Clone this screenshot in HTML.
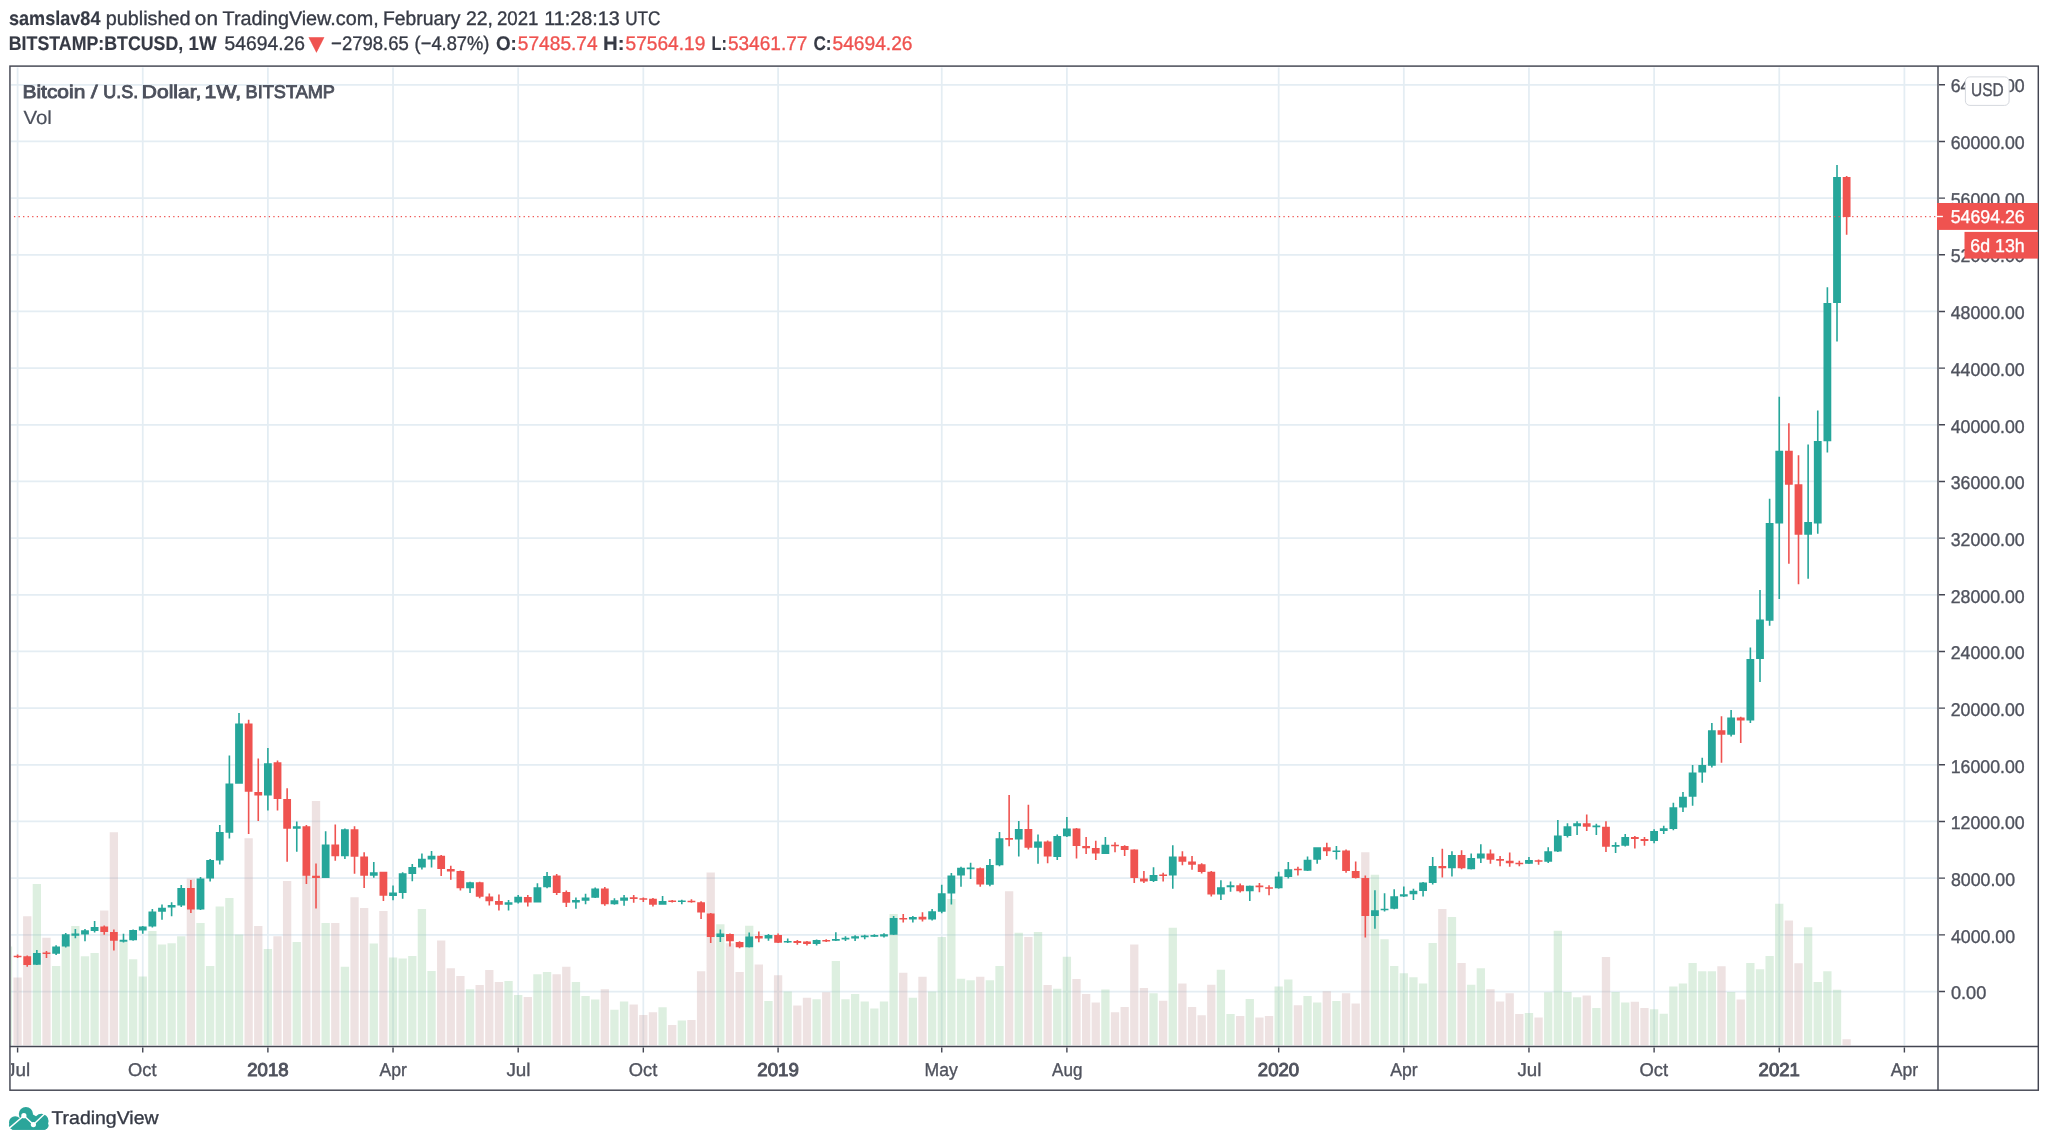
<!DOCTYPE html>
<html lang="en"><head><meta charset="utf-8"><title>BTCUSD 1W - TradingView</title>
<style>html,body{margin:0;padding:0;background:#fff}body{width:2048px;height:1146px;overflow:hidden}svg{display:block;will-change:transform}</style>
</head><body>
<svg width="2048" height="1146" viewBox="0 0 2048 1146" shape-rendering="auto" text-rendering="geometricPrecision">
<rect width="2048" height="1146" fill="#fff"/>
<defs><clipPath id="pane"><rect x="11" y="67.5" width="1926" height="978"/></clipPath><clipPath id="taxis"><rect x="11" y="1047" width="1926" height="42"/></clipPath></defs>
<path d="M11 991.5 H1937 M11 934.83 H1937 M11 878.16 H1937 M11 821.49 H1937 M11 764.82 H1937 M11 708.15 H1937 M11 651.48 H1937 M11 594.81 H1937 M11 538.14 H1937 M11 481.47 H1937 M11 424.8 H1937 M11 368.13 H1937 M11 311.46 H1937 M11 254.79 H1937 M11 198.12 H1937 M11 141.45 H1937 M11 84.78 H1937 M17.6 67.5 V1045.5 M142.74 67.5 V1045.5 M267.89 67.5 V1045.5 M393.03 67.5 V1045.5 M518.18 67.5 V1045.5 M643.32 67.5 V1045.5 M778.09 67.5 V1045.5 M941.74 67.5 V1045.5 M1066.89 67.5 V1045.5 M1278.67 67.5 V1045.5 M1403.82 67.5 V1045.5 M1528.96 67.5 V1045.5 M1654.11 67.5 V1045.5 M1779.25 67.5 V1045.5 M1904.39 67.5 V1045.5" stroke="#e4edf3" stroke-width="1.75" fill="none"/>
<g clip-path="url(#pane)">
<path d="M3.82 946.5 h8.3 V1045.5 h-8.3 z M32.7 884 h8.3 V1045.5 h-8.3 z M51.96 966.1 h8.3 V1045.5 h-8.3 z M61.58 940 h8.3 V1045.5 h-8.3 z M71.21 926 h8.3 V1045.5 h-8.3 z M80.84 956.3 h8.3 V1045.5 h-8.3 z M90.46 953 h8.3 V1045.5 h-8.3 z M119.34 941.7 h8.3 V1045.5 h-8.3 z M128.97 959.3 h8.3 V1045.5 h-8.3 z M138.59 976.5 h8.3 V1045.5 h-8.3 z M148.22 930.9 h8.3 V1045.5 h-8.3 z M157.85 944.6 h8.3 V1045.5 h-8.3 z M167.47 943.2 h8.3 V1045.5 h-8.3 z M177.1 936.2 h8.3 V1045.5 h-8.3 z M196.35 923.1 h8.3 V1045.5 h-8.3 z M205.98 966.1 h8.3 V1045.5 h-8.3 z M215.61 906.5 h8.3 V1045.5 h-8.3 z M225.23 898.1 h8.3 V1045.5 h-8.3 z M234.86 934.4 h8.3 V1045.5 h-8.3 z M263.74 949.1 h8.3 V1045.5 h-8.3 z M292.62 942.1 h8.3 V1045.5 h-8.3 z M321.5 923.1 h8.3 V1045.5 h-8.3 z M340.75 966.7 h8.3 V1045.5 h-8.3 z M369.63 943.6 h8.3 V1045.5 h-8.3 z M388.88 957.4 h8.3 V1045.5 h-8.3 z M398.51 958.4 h8.3 V1045.5 h-8.3 z M408.14 956 h8.3 V1045.5 h-8.3 z M417.76 909.1 h8.3 V1045.5 h-8.3 z M427.39 971.1 h8.3 V1045.5 h-8.3 z M465.9 989.2 h8.3 V1045.5 h-8.3 z M504.4 981 h8.3 V1045.5 h-8.3 z M514.03 995.1 h8.3 V1045.5 h-8.3 z M533.28 974.2 h8.3 V1045.5 h-8.3 z M542.91 972 h8.3 V1045.5 h-8.3 z M571.79 982 h8.3 V1045.5 h-8.3 z M581.41 996.1 h8.3 V1045.5 h-8.3 z M591.04 999.4 h8.3 V1045.5 h-8.3 z M610.29 1009.8 h8.3 V1045.5 h-8.3 z M619.92 1001.6 h8.3 V1045.5 h-8.3 z M658.43 1007.2 h8.3 V1045.5 h-8.3 z M677.68 1020.5 h8.3 V1045.5 h-8.3 z M716.18 924.3 h8.3 V1045.5 h-8.3 z M745.06 925.7 h8.3 V1045.5 h-8.3 z M764.32 1001 h8.3 V1045.5 h-8.3 z M783.57 991.4 h8.3 V1045.5 h-8.3 z M812.45 999.2 h8.3 V1045.5 h-8.3 z M831.7 961.1 h8.3 V1045.5 h-8.3 z M841.33 999.2 h8.3 V1045.5 h-8.3 z M850.96 993.9 h8.3 V1045.5 h-8.3 z M860.58 1001.5 h8.3 V1045.5 h-8.3 z M870.21 1008.4 h8.3 V1045.5 h-8.3 z M879.84 1001.5 h8.3 V1045.5 h-8.3 z M889.46 914.1 h8.3 V1045.5 h-8.3 z M908.71 997.8 h8.3 V1045.5 h-8.3 z M927.97 991.4 h8.3 V1045.5 h-8.3 z M937.59 937 h8.3 V1045.5 h-8.3 z M947.22 899.1 h8.3 V1045.5 h-8.3 z M956.85 978.7 h8.3 V1045.5 h-8.3 z M966.47 980.2 h8.3 V1045.5 h-8.3 z M985.73 980.2 h8.3 V1045.5 h-8.3 z M995.35 966 h8.3 V1045.5 h-8.3 z M1014.61 932.7 h8.3 V1045.5 h-8.3 z M1033.86 932.1 h8.3 V1045.5 h-8.3 z M1053.11 988.8 h8.3 V1045.5 h-8.3 z M1062.74 956.8 h8.3 V1045.5 h-8.3 z M1101.24 989.4 h8.3 V1045.5 h-8.3 z M1149.38 993.3 h8.3 V1045.5 h-8.3 z M1168.63 927.8 h8.3 V1045.5 h-8.3 z M1216.76 969.8 h8.3 V1045.5 h-8.3 z M1226.39 1014.1 h8.3 V1045.5 h-8.3 z M1245.64 999.1 h8.3 V1045.5 h-8.3 z M1274.52 986.4 h8.3 V1045.5 h-8.3 z M1284.15 979.5 h8.3 V1045.5 h-8.3 z M1303.4 996.1 h8.3 V1045.5 h-8.3 z M1313.03 1002.4 h8.3 V1045.5 h-8.3 z M1332.28 1001 h8.3 V1045.5 h-8.3 z M1370.79 874.7 h8.3 V1045.5 h-8.3 z M1380.41 939.2 h8.3 V1045.5 h-8.3 z M1390.04 965.9 h8.3 V1045.5 h-8.3 z M1399.67 973.3 h8.3 V1045.5 h-8.3 z M1409.29 977.2 h8.3 V1045.5 h-8.3 z M1418.92 983.4 h8.3 V1045.5 h-8.3 z M1428.55 943.1 h8.3 V1045.5 h-8.3 z M1447.8 917.1 h8.3 V1045.5 h-8.3 z M1467.05 984.8 h8.3 V1045.5 h-8.3 z M1476.68 968.2 h8.3 V1045.5 h-8.3 z M1524.81 1013.1 h8.3 V1045.5 h-8.3 z M1544.06 992.2 h8.3 V1045.5 h-8.3 z M1553.69 930.8 h8.3 V1045.5 h-8.3 z M1563.32 991.9 h8.3 V1045.5 h-8.3 z M1572.94 997.2 h8.3 V1045.5 h-8.3 z M1592.2 1007.9 h8.3 V1045.5 h-8.3 z M1611.45 991.9 h8.3 V1045.5 h-8.3 z M1621.08 1002.4 h8.3 V1045.5 h-8.3 z M1649.95 1009.3 h8.3 V1045.5 h-8.3 z M1659.58 1013.8 h8.3 V1045.5 h-8.3 z M1669.21 986.4 h8.3 V1045.5 h-8.3 z M1678.83 983.5 h8.3 V1045.5 h-8.3 z M1688.46 962.9 h8.3 V1045.5 h-8.3 z M1698.09 971.2 h8.3 V1045.5 h-8.3 z M1707.71 971.2 h8.3 V1045.5 h-8.3 z M1726.97 991.9 h8.3 V1045.5 h-8.3 z M1746.22 962.9 h8.3 V1045.5 h-8.3 z M1755.85 969.2 h8.3 V1045.5 h-8.3 z M1765.47 956.1 h8.3 V1045.5 h-8.3 z M1775.1 903.7 h8.3 V1045.5 h-8.3 z M1803.98 927.2 h8.3 V1045.5 h-8.3 z M1813.61 982.1 h8.3 V1045.5 h-8.3 z M1823.23 971.2 h8.3 V1045.5 h-8.3 z M1832.86 989.7 h8.3 V1045.5 h-8.3 z" fill="rgba(150,205,160,0.32)"/>
<path d="M13.45 977.4 h8.3 V1045.5 h-8.3 z M23.08 916.2 h8.3 V1045.5 h-8.3 z M42.33 937.8 h8.3 V1045.5 h-8.3 z M100.09 910.4 h8.3 V1045.5 h-8.3 z M109.72 832.3 h8.3 V1045.5 h-8.3 z M186.73 878.4 h8.3 V1045.5 h-8.3 z M244.49 838.2 h8.3 V1045.5 h-8.3 z M254.11 926 h8.3 V1045.5 h-8.3 z M273.37 936.2 h8.3 V1045.5 h-8.3 z M282.99 881.1 h8.3 V1045.5 h-8.3 z M302.25 870 h8.3 V1045.5 h-8.3 z M311.87 801 h8.3 V1045.5 h-8.3 z M331.12 923.1 h8.3 V1045.5 h-8.3 z M350.38 897.3 h8.3 V1045.5 h-8.3 z M360 908 h8.3 V1045.5 h-8.3 z M379.26 911 h8.3 V1045.5 h-8.3 z M437.02 940.4 h8.3 V1045.5 h-8.3 z M446.64 968.3 h8.3 V1045.5 h-8.3 z M456.27 976.1 h8.3 V1045.5 h-8.3 z M475.52 984.9 h8.3 V1045.5 h-8.3 z M485.15 970.1 h8.3 V1045.5 h-8.3 z M494.78 982 h8.3 V1045.5 h-8.3 z M523.65 997.1 h8.3 V1045.5 h-8.3 z M552.53 974.2 h8.3 V1045.5 h-8.3 z M562.16 966.8 h8.3 V1045.5 h-8.3 z M600.67 989.2 h8.3 V1045.5 h-8.3 z M629.55 1004.5 h8.3 V1045.5 h-8.3 z M639.17 1015.1 h8.3 V1045.5 h-8.3 z M648.8 1012.3 h8.3 V1045.5 h-8.3 z M668.05 1025 h8.3 V1045.5 h-8.3 z M687.31 1019.9 h8.3 V1045.5 h-8.3 z M696.93 971.3 h8.3 V1045.5 h-8.3 z M706.56 872.5 h8.3 V1045.5 h-8.3 z M725.81 943.3 h8.3 V1045.5 h-8.3 z M735.44 972 h8.3 V1045.5 h-8.3 z M754.69 964.4 h8.3 V1045.5 h-8.3 z M773.94 975.2 h8.3 V1045.5 h-8.3 z M793.2 1005.4 h8.3 V1045.5 h-8.3 z M802.82 997.8 h8.3 V1045.5 h-8.3 z M822.08 992.3 h8.3 V1045.5 h-8.3 z M899.09 972.8 h8.3 V1045.5 h-8.3 z M918.34 976.7 h8.3 V1045.5 h-8.3 z M976.1 976.7 h8.3 V1045.5 h-8.3 z M1004.98 891.3 h8.3 V1045.5 h-8.3 z M1024.23 937 h8.3 V1045.5 h-8.3 z M1043.49 984.9 h8.3 V1045.5 h-8.3 z M1072.36 979.1 h8.3 V1045.5 h-8.3 z M1081.99 993.9 h8.3 V1045.5 h-8.3 z M1091.62 1002.5 h8.3 V1045.5 h-8.3 z M1110.87 1012.3 h8.3 V1045.5 h-8.3 z M1120.5 1007 h8.3 V1045.5 h-8.3 z M1130.12 944.4 h8.3 V1045.5 h-8.3 z M1139.75 988 h8.3 V1045.5 h-8.3 z M1159 1000.8 h8.3 V1045.5 h-8.3 z M1178.26 983.4 h8.3 V1045.5 h-8.3 z M1187.88 1006.9 h8.3 V1045.5 h-8.3 z M1197.51 1015.3 h8.3 V1045.5 h-8.3 z M1207.14 984.8 h8.3 V1045.5 h-8.3 z M1236.02 1016.1 h8.3 V1045.5 h-8.3 z M1255.27 1017.6 h8.3 V1045.5 h-8.3 z M1264.89 1016.1 h8.3 V1045.5 h-8.3 z M1293.77 1005.3 h8.3 V1045.5 h-8.3 z M1322.65 991.3 h8.3 V1045.5 h-8.3 z M1341.91 993.2 h8.3 V1045.5 h-8.3 z M1351.53 1003.4 h8.3 V1045.5 h-8.3 z M1361.16 852.2 h8.3 V1045.5 h-8.3 z M1438.17 908.9 h8.3 V1045.5 h-8.3 z M1457.42 962.9 h8.3 V1045.5 h-8.3 z M1486.3 989.3 h8.3 V1045.5 h-8.3 z M1495.93 1001.6 h8.3 V1045.5 h-8.3 z M1505.56 993.2 h8.3 V1045.5 h-8.3 z M1515.18 1014.1 h8.3 V1045.5 h-8.3 z M1534.44 1017.6 h8.3 V1045.5 h-8.3 z M1582.57 995.6 h8.3 V1045.5 h-8.3 z M1601.82 957.1 h8.3 V1045.5 h-8.3 z M1630.7 1001.7 h8.3 V1045.5 h-8.3 z M1640.33 1007.9 h8.3 V1045.5 h-8.3 z M1717.34 966.3 h8.3 V1045.5 h-8.3 z M1736.59 999.5 h8.3 V1045.5 h-8.3 z M1784.73 920.5 h8.3 V1045.5 h-8.3 z M1794.35 963.3 h8.3 V1045.5 h-8.3 z M1842.48 1039.2 h8.3 V1045.5 h-8.3 z" fill="rgba(200,160,160,0.30)"/>
<path d="M36.05 949.9 h1.6 V964.9 h-1.6 z M32.95 953 h7.8 V964.7 h-7.8 z M55.31 945.2 h1.6 V955 h-1.6 z M52.21 946.5 h7.8 V953.8 h-7.8 z M64.93 932.9 h1.6 V947.5 h-1.6 z M61.83 934.2 h7.8 V946.5 h-7.8 z M74.56 929 h1.6 V938.3 h-1.6 z M71.46 933.5 h7.8 V935.8 h-7.8 z M84.19 929 h1.6 V941.3 h-1.6 z M81.09 930.3 h7.8 V934.4 h-7.8 z M93.81 921.1 h1.6 V932.5 h-1.6 z M90.71 927 h7.8 V930.9 h-7.8 z M122.69 933.8 h1.6 V942.6 h-1.6 z M119.59 939.7 h7.8 V941.7 h-7.8 z M132.32 929.5 h1.6 V940.7 h-1.6 z M129.22 929.9 h7.8 V940.3 h-7.8 z M141.94 926 h1.6 V933.8 h-1.6 z M138.84 926.6 h7.8 V930.5 h-7.8 z M151.57 909 h1.6 V927.6 h-1.6 z M148.47 911.4 h7.8 V926.6 h-7.8 z M161.2 904.5 h1.6 V919.8 h-1.6 z M158.1 907.8 h7.8 V911.7 h-7.8 z M170.82 902.2 h1.6 V916.2 h-1.6 z M167.72 905.1 h7.8 V907.4 h-7.8 z M180.45 885 h1.6 V907 h-1.6 z M177.35 887.9 h7.8 V905.5 h-7.8 z M199.7 877.1 h1.6 V910 h-1.6 z M196.6 878.5 h7.8 V909.4 h-7.8 z M209.33 859 h1.6 V881.6 h-1.6 z M206.23 860.1 h7.8 V878.5 h-7.8 z M218.96 824.9 h1.6 V864.5 h-1.6 z M215.86 832.1 h7.8 V860.5 h-7.8 z M228.58 755.5 h1.6 V838.6 h-1.6 z M225.48 783.5 h7.8 V832.7 h-7.8 z M238.21 713.1 h1.6 V783.8 h-1.6 z M235.11 723.6 h7.8 V783.8 h-7.8 z M267.09 748.1 h1.6 V810.6 h-1.6 z M263.99 763.3 h7.8 V795.6 h-7.8 z M295.97 821.6 h1.6 V851.7 h-1.6 z M292.87 826.3 h7.8 V828.8 h-7.8 z M324.85 831.3 h1.6 V878.1 h-1.6 z M321.75 844.4 h7.8 V878.1 h-7.8 z M344.1 828.4 h1.6 V859.1 h-1.6 z M341 829.2 h7.8 V856.2 h-7.8 z M372.98 862 h1.6 V877.7 h-1.6 z M369.88 872.2 h7.8 V875.7 h-7.8 z M392.23 885.6 h1.6 V900.3 h-1.6 z M389.13 892.5 h7.8 V896 h-7.8 z M401.86 872.3 h1.6 V898.7 h-1.6 z M398.76 873.3 h7.8 V892.9 h-7.8 z M411.49 864.1 h1.6 V881.3 h-1.6 z M408.39 867.1 h7.8 V873.9 h-7.8 z M421.11 853.4 h1.6 V869.6 h-1.6 z M418.01 858.8 h7.8 V867.6 h-7.8 z M430.74 851 h1.6 V867.6 h-1.6 z M427.64 855.7 h7.8 V859.6 h-7.8 z M469.25 881.7 h1.6 V892.9 h-1.6 z M466.15 882.3 h7.8 V888.2 h-7.8 z M507.75 899.9 h1.6 V910.5 h-1.6 z M504.65 902.2 h7.8 V904.8 h-7.8 z M517.38 895 h1.6 V903.6 h-1.6 z M514.28 896.8 h7.8 V902.6 h-7.8 z M536.63 883.3 h1.6 V902.6 h-1.6 z M533.53 887.2 h7.8 V902.6 h-7.8 z M546.26 871.9 h1.6 V888.2 h-1.6 z M543.16 875.9 h7.8 V887.2 h-7.8 z M575.14 897.4 h1.6 V908.7 h-1.6 z M572.04 899.9 h7.8 V902.6 h-7.8 z M584.76 893.8 h1.6 V904.2 h-1.6 z M581.66 897.4 h7.8 V900.7 h-7.8 z M594.39 887.6 h1.6 V897.9 h-1.6 z M591.29 888.6 h7.8 V897.7 h-7.8 z M613.64 898.3 h1.6 V904.8 h-1.6 z M610.54 900.3 h7.8 V904.2 h-7.8 z M623.27 895 h1.6 V905.8 h-1.6 z M620.17 897.4 h7.8 V900.7 h-7.8 z M661.78 896 h1.6 V904.8 h-1.6 z M658.68 900.9 h7.8 V904.8 h-7.8 z M681.03 899.7 h1.6 V904.2 h-1.6 z M677.93 900.4 h7.8 V902 h-7.8 z M719.53 929.6 h1.6 V941.9 h-1.6 z M716.43 933.5 h7.8 V937 h-7.8 z M748.41 932.5 h1.6 V947.6 h-1.6 z M745.31 936.5 h7.8 V947.2 h-7.8 z M767.67 934.1 h1.6 V940.8 h-1.6 z M764.57 934.9 h7.8 V938.4 h-7.8 z M786.92 938.6 h1.6 V942.9 h-1.6 z M783.82 940.9 h7.8 V942.5 h-7.8 z M815.8 939.6 h1.6 V945.4 h-1.6 z M812.7 940.1 h7.8 V944.1 h-7.8 z M835.05 932.3 h1.6 V941.1 h-1.6 z M831.95 939.05 h7.8 V940.65 h-7.8 z M844.68 936.2 h1.6 V940.9 h-1.6 z M841.58 937.8 h7.8 V939.4 h-7.8 z M854.31 935.3 h1.6 V940.9 h-1.6 z M851.21 936.2 h7.8 V938.6 h-7.8 z M863.93 934.7 h1.6 V939.2 h-1.6 z M860.83 935.55 h7.8 V937.15 h-7.8 z M873.56 934.3 h1.6 V937 h-1.6 z M870.46 935.05 h7.8 V936.65 h-7.8 z M883.19 933.3 h1.6 V937.6 h-1.6 z M880.09 934.3 h7.8 V936.6 h-7.8 z M892.81 916.1 h1.6 V935.1 h-1.6 z M889.71 918.1 h7.8 V934.7 h-7.8 z M912.06 916.1 h1.6 V922.4 h-1.6 z M908.96 917.1 h7.8 V919.4 h-7.8 z M931.32 908.9 h1.6 V920.6 h-1.6 z M928.22 911.2 h7.8 V919.4 h-7.8 z M940.94 884.8 h1.6 V913.2 h-1.6 z M937.84 893.2 h7.8 V911.8 h-7.8 z M950.57 873.1 h1.6 V904.4 h-1.6 z M947.47 875.4 h7.8 V893.6 h-7.8 z M960.2 866.8 h1.6 V886.8 h-1.6 z M957.1 867.8 h7.8 V875.6 h-7.8 z M969.82 862.7 h1.6 V879 h-1.6 z M966.72 867.6 h7.8 V869.2 h-7.8 z M989.08 859 h1.6 V886.2 h-1.6 z M985.98 864.9 h7.8 V884.8 h-7.8 z M998.7 832 h1.6 V866.2 h-1.6 z M995.6 838.3 h7.8 V865.3 h-7.8 z M1017.96 820.9 h1.6 V856.5 h-1.6 z M1014.86 829.1 h7.8 V839.5 h-7.8 z M1037.21 834.6 h1.6 V863.7 h-1.6 z M1034.11 841.4 h7.8 V847.7 h-7.8 z M1056.46 834.6 h1.6 V860 h-1.6 z M1053.36 835.9 h7.8 V856.9 h-7.8 z M1066.09 817 h1.6 V836.9 h-1.6 z M1062.99 828.5 h7.8 V836.3 h-7.8 z M1104.59 836.9 h1.6 V854.1 h-1.6 z M1101.49 844.7 h7.8 V853.9 h-7.8 z M1152.73 867.2 h1.6 V881.9 h-1.6 z M1149.63 875 h7.8 V880.9 h-7.8 z M1171.98 845.3 h1.6 V888.7 h-1.6 z M1168.88 856.5 h7.8 V875.4 h-7.8 z M1220.11 880.3 h1.6 V900.1 h-1.6 z M1217.01 887.2 h7.8 V894.6 h-7.8 z M1229.74 881.5 h1.6 V891.7 h-1.6 z M1226.64 885.2 h7.8 V887.2 h-7.8 z M1248.99 885.4 h1.6 V901 h-1.6 z M1245.89 885.8 h7.8 V891.3 h-7.8 z M1277.87 871.7 h1.6 V888.7 h-1.6 z M1274.77 876.4 h7.8 V888.3 h-7.8 z M1287.5 861.9 h1.6 V878.6 h-1.6 z M1284.4 869.2 h7.8 V877 h-7.8 z M1306.75 856.5 h1.6 V871.1 h-1.6 z M1303.65 859.8 h7.8 V870.7 h-7.8 z M1316.38 847.3 h1.6 V863.7 h-1.6 z M1313.28 847.3 h7.8 V859.8 h-7.8 z M1335.63 846.1 h1.6 V859.4 h-1.6 z M1332.53 850.5 h7.8 V852.1 h-7.8 z M1374.14 890.3 h1.6 V928.8 h-1.6 z M1371.04 910.2 h7.8 V916.1 h-7.8 z M1383.76 893.2 h1.6 V911.6 h-1.6 z M1380.66 908.75 h7.8 V910.35 h-7.8 z M1393.39 889.3 h1.6 V909.3 h-1.6 z M1390.29 896.2 h7.8 V908.7 h-7.8 z M1403.02 886.4 h1.6 V896.9 h-1.6 z M1399.92 894.2 h7.8 V896.5 h-7.8 z M1412.64 888.7 h1.6 V900.1 h-1.6 z M1409.54 890.7 h7.8 V894.2 h-7.8 z M1422.27 881.9 h1.6 V896.5 h-1.6 z M1419.17 882.5 h7.8 V891.1 h-7.8 z M1431.9 857.1 h1.6 V884.4 h-1.6 z M1428.8 865.9 h7.8 V882.9 h-7.8 z M1451.15 851.2 h1.6 V876.6 h-1.6 z M1448.05 855.1 h7.8 V868.2 h-7.8 z M1470.4 853.5 h1.6 V869.6 h-1.6 z M1467.3 858 h7.8 V869.2 h-7.8 z M1480.03 844.3 h1.6 V862.9 h-1.6 z M1476.93 853.5 h7.8 V858.4 h-7.8 z M1528.16 857.1 h1.6 V863.9 h-1.6 z M1525.06 860 h7.8 V863.7 h-7.8 z M1547.41 847.3 h1.6 V862.9 h-1.6 z M1544.31 851.2 h7.8 V861.7 h-7.8 z M1557.04 819.9 h1.6 V852 h-1.6 z M1553.94 835.4 h7.8 V851.6 h-7.8 z M1566.67 823.2 h1.6 V837.5 h-1.6 z M1563.57 826.3 h7.8 V836.1 h-7.8 z M1576.29 821.2 h1.6 V834.9 h-1.6 z M1573.19 823.2 h7.8 V826.3 h-7.8 z M1595.55 823.8 h1.6 V834.9 h-1.6 z M1592.45 825.6 h7.8 V827.2 h-7.8 z M1614.8 842.3 h1.6 V853.1 h-1.6 z M1611.7 844.9 h7.8 V846.8 h-7.8 z M1624.43 833.9 h1.6 V846.6 h-1.6 z M1621.33 837.1 h7.8 V845.7 h-7.8 z M1653.31 829.2 h1.6 V843.3 h-1.6 z M1650.2 831 h7.8 V841 h-7.8 z M1662.93 825.7 h1.6 V834.1 h-1.6 z M1659.83 828.3 h7.8 V831 h-7.8 z M1672.56 802.7 h1.6 V830.2 h-1.6 z M1669.46 807.2 h7.8 V829.1 h-7.8 z M1682.18 792.1 h1.6 V812 h-1.6 z M1679.08 796.8 h7.8 V807.5 h-7.8 z M1691.81 765.1 h1.6 V805.8 h-1.6 z M1688.71 772.4 h7.8 V796.8 h-7.8 z M1701.44 757.7 h1.6 V782.7 h-1.6 z M1698.34 765.1 h7.8 V772.6 h-7.8 z M1711.06 723.1 h1.6 V767.5 h-1.6 z M1707.96 730.3 h7.8 V765.7 h-7.8 z M1730.32 710 h1.6 V736.4 h-1.6 z M1727.22 717.6 h7.8 V734.8 h-7.8 z M1749.57 647.4 h1.6 V723.1 h-1.6 z M1746.47 659 h7.8 V720.5 h-7.8 z M1759.2 590.1 h1.6 V682 h-1.6 z M1756.1 619.5 h7.8 V659 h-7.8 z M1768.82 498.7 h1.6 V625.7 h-1.6 z M1765.72 523.1 h7.8 V620.8 h-7.8 z M1778.45 396.7 h1.6 V599 h-1.6 z M1775.35 450.7 h7.8 V523.5 h-7.8 z M1807.33 444.6 h1.6 V578.8 h-1.6 z M1804.23 522.1 h7.8 V534.8 h-7.8 z M1816.96 410.4 h1.6 V533.8 h-1.6 z M1813.86 440.9 h7.8 V523.5 h-7.8 z M1826.58 287.2 h1.6 V452.6 h-1.6 z M1823.48 302.9 h7.8 V441.3 h-7.8 z M1836.21 165.1 h1.6 V341.6 h-1.6 z M1833.11 177 h7.8 V302.9 h-7.8 z" fill="#26a69a"/>
<path d="M16.8 954.4 h1.6 V957.9 h-1.6 z M13.7 955.7 h7.8 V957.3 h-7.8 z M26.43 955.4 h1.6 V966.7 h-1.6 z M23.33 956.3 h7.8 V965.1 h-7.8 z M45.68 951 h1.6 V957.9 h-1.6 z M42.58 952.4 h7.8 V954 h-7.8 z M103.44 925.6 h1.6 V934.8 h-1.6 z M100.34 926.4 h7.8 V931.9 h-7.8 z M113.07 929.5 h1.6 V950.5 h-1.6 z M109.97 931.9 h7.8 V940.7 h-7.8 z M190.08 880.1 h1.6 V912.9 h-1.6 z M186.98 887.9 h7.8 V909.4 h-7.8 z M247.84 719.7 h1.6 V834.1 h-1.6 z M244.74 723.6 h7.8 V791.7 h-7.8 z M257.46 758.4 h1.6 V821 h-1.6 z M254.36 792 h7.8 V795.6 h-7.8 z M276.72 760.4 h1.6 V810.6 h-1.6 z M273.62 762.3 h7.8 V799.1 h-7.8 z M286.34 788.3 h1.6 V861.7 h-1.6 z M283.24 798.9 h7.8 V828.8 h-7.8 z M305.6 824.9 h1.6 V883.9 h-1.6 z M302.5 826.3 h7.8 V875.7 h-7.8 z M315.22 863.4 h1.6 V908.6 h-1.6 z M312.12 875.7 h7.8 V878.1 h-7.8 z M334.47 824.5 h1.6 V860.7 h-1.6 z M331.37 844.4 h7.8 V856.2 h-7.8 z M353.73 826.3 h1.6 V873.8 h-1.6 z M350.63 829.2 h7.8 V856.8 h-7.8 z M363.35 852.3 h1.6 V888 h-1.6 z M360.25 856.6 h7.8 V875.7 h-7.8 z M382.61 871.8 h1.6 V901.1 h-1.6 z M379.51 871.8 h7.8 V895.7 h-7.8 z M440.37 854.9 h1.6 V875.9 h-1.6 z M437.27 855.7 h7.8 V869 h-7.8 z M449.99 865.7 h1.6 V879.8 h-1.6 z M446.89 869 h7.8 V871.4 h-7.8 z M459.62 870.4 h1.6 V890.5 h-1.6 z M456.52 871 h7.8 V888.2 h-7.8 z M478.87 881.7 h1.6 V898.3 h-1.6 z M475.77 882.3 h7.8 V896.8 h-7.8 z M488.5 893.4 h1.6 V905.6 h-1.6 z M485.4 896.4 h7.8 V901.3 h-7.8 z M498.12 894.4 h1.6 V910.5 h-1.6 z M495.03 900.9 h7.8 V904.8 h-7.8 z M527 895 h1.6 V906.5 h-1.6 z M523.9 897 h7.8 V902.6 h-7.8 z M555.88 873.9 h1.6 V895 h-1.6 z M552.78 875.5 h7.8 V892.9 h-7.8 z M565.51 890.5 h1.6 V907.1 h-1.6 z M562.41 892.1 h7.8 V902.8 h-7.8 z M604.02 887 h1.6 V905.8 h-1.6 z M600.92 888.6 h7.8 V904.2 h-7.8 z M632.9 895 h1.6 V902.8 h-1.6 z M629.8 897.35 h7.8 V898.95 h-7.8 z M642.52 897.4 h1.6 V901.9 h-1.6 z M639.42 898.2 h7.8 V899.8 h-7.8 z M652.15 897.9 h1.6 V906.5 h-1.6 z M649.05 898.7 h7.8 V904.8 h-7.8 z M671.4 899.9 h1.6 V902.6 h-1.6 z M668.3 900.5 h7.8 V902.1 h-7.8 z M690.66 899.3 h1.6 V902.8 h-1.6 z M687.56 900.65 h7.8 V902.25 h-7.8 z M700.28 901.3 h1.6 V918.9 h-1.6 z M697.18 902.2 h7.8 V912.6 h-7.8 z M709.91 913 h1.6 V942.9 h-1.6 z M706.81 913.6 h7.8 V937 h-7.8 z M729.16 933.5 h1.6 V946.6 h-1.6 z M726.06 934.1 h7.8 V941.3 h-7.8 z M738.79 941.3 h1.6 V948.2 h-1.6 z M735.69 941.9 h7.8 V947.2 h-7.8 z M758.04 931.6 h1.6 V942.3 h-1.6 z M754.94 936.1 h7.8 V938.4 h-7.8 z M777.29 933.5 h1.6 V942.9 h-1.6 z M774.19 934.9 h7.8 V942.7 h-7.8 z M796.55 940 h1.6 V944.8 h-1.6 z M793.45 940.9 h7.8 V942.9 h-7.8 z M806.17 941.1 h1.6 V945.4 h-1.6 z M803.07 941.5 h7.8 V943.9 h-7.8 z M825.43 939.2 h1.6 V942.1 h-1.6 z M822.33 939.95 h7.8 V941.55 h-7.8 z M902.44 914.1 h1.6 V922.6 h-1.6 z M899.34 917.95 h7.8 V919.55 h-7.8 z M921.69 912.2 h1.6 V921.6 h-1.6 z M918.59 916.7 h7.8 V919.6 h-7.8 z M979.45 867.6 h1.6 V886.8 h-1.6 z M976.35 868.2 h7.8 V884.4 h-7.8 z M1008.33 794.9 h1.6 V846.3 h-1.6 z M1005.23 838.1 h7.8 V839.7 h-7.8 z M1027.58 804.7 h1.6 V849.6 h-1.6 z M1024.48 829.1 h7.8 V847.7 h-7.8 z M1046.84 840.4 h1.6 V863.3 h-1.6 z M1043.74 841.4 h7.8 V856.5 h-7.8 z M1075.71 828.1 h1.6 V858.4 h-1.6 z M1072.61 828.5 h7.8 V846.1 h-7.8 z M1085.34 836.9 h1.6 V853.9 h-1.6 z M1082.24 846.1 h7.8 V848.3 h-7.8 z M1094.97 840.8 h1.6 V860 h-1.6 z M1091.87 848.1 h7.8 V853.5 h-7.8 z M1114.22 842.2 h1.6 V852.2 h-1.6 z M1111.12 844.7 h7.8 V846.3 h-7.8 z M1123.85 845.3 h1.6 V856.1 h-1.6 z M1120.75 846.1 h7.8 V850 h-7.8 z M1133.47 849.2 h1.6 V882.9 h-1.6 z M1130.37 849.6 h7.8 V878 h-7.8 z M1143.1 871.1 h1.6 V882.9 h-1.6 z M1140 878.4 h7.8 V881.5 h-7.8 z M1162.35 872.7 h1.6 V881.5 h-1.6 z M1159.25 874.45 h7.8 V876.05 h-7.8 z M1181.61 851.2 h1.6 V865.3 h-1.6 z M1178.51 856.5 h7.8 V861.7 h-7.8 z M1191.23 855.9 h1.6 V869.8 h-1.6 z M1188.13 861.4 h7.8 V864.7 h-7.8 z M1200.86 863.3 h1.6 V873.5 h-1.6 z M1197.76 864.3 h7.8 V872.1 h-7.8 z M1210.49 871.1 h1.6 V896.5 h-1.6 z M1207.39 871.7 h7.8 V894.6 h-7.8 z M1239.37 883.5 h1.6 V892.6 h-1.6 z M1236.27 885.2 h7.8 V891.3 h-7.8 z M1258.62 882.9 h1.6 V892.2 h-1.6 z M1255.52 885.4 h7.8 V887.2 h-7.8 z M1268.24 885.2 h1.6 V895.2 h-1.6 z M1265.14 887.15 h7.8 V888.75 h-7.8 z M1297.12 866.8 h1.6 V875.6 h-1.6 z M1294.02 868.7 h7.8 V870.3 h-7.8 z M1326 842.8 h1.6 V856.1 h-1.6 z M1322.9 847.3 h7.8 V851.2 h-7.8 z M1345.26 849.6 h1.6 V872.7 h-1.6 z M1342.16 850.6 h7.8 V871.1 h-7.8 z M1354.88 861.4 h1.6 V878.6 h-1.6 z M1351.78 871.1 h7.8 V878 h-7.8 z M1364.51 875.6 h1.6 V937.6 h-1.6 z M1361.41 878 h7.8 V916.1 h-7.8 z M1441.52 848.7 h1.6 V877.6 h-1.6 z M1438.42 865.9 h7.8 V868.2 h-7.8 z M1460.77 850.2 h1.6 V869.2 h-1.6 z M1457.67 855.1 h7.8 V868.2 h-7.8 z M1489.65 849.6 h1.6 V863.7 h-1.6 z M1486.55 853.5 h7.8 V859.8 h-7.8 z M1499.28 855.9 h1.6 V866.2 h-1.6 z M1496.18 859 h7.8 V860.8 h-7.8 z M1508.91 852.6 h1.6 V866.8 h-1.6 z M1505.81 860.8 h7.8 V863.3 h-7.8 z M1518.53 860.8 h1.6 V866.2 h-1.6 z M1515.43 862.7 h7.8 V864.3 h-7.8 z M1537.79 859.4 h1.6 V864.7 h-1.6 z M1534.69 860.25 h7.8 V861.85 h-7.8 z M1585.92 814.6 h1.6 V831 h-1.6 z M1582.82 823.2 h7.8 V826.7 h-7.8 z M1605.17 821.2 h1.6 V852.1 h-1.6 z M1602.07 826.7 h7.8 V846.8 h-7.8 z M1634.05 835.9 h1.6 V848.6 h-1.6 z M1630.95 837.1 h7.8 V839 h-7.8 z M1643.68 836.9 h1.6 V845.7 h-1.6 z M1640.58 839 h7.8 V841 h-7.8 z M1720.69 716.2 h1.6 V762.8 h-1.6 z M1717.59 730.3 h7.8 V734.8 h-7.8 z M1739.94 716.8 h1.6 V743 h-1.6 z M1736.84 717.6 h7.8 V720.5 h-7.8 z M1788.08 423.3 h1.6 V563.8 h-1.6 z M1784.98 450.7 h7.8 V484.7 h-7.8 z M1797.7 455.3 h1.6 V584.3 h-1.6 z M1794.6 484.3 h7.8 V534.8 h-7.8 z M1845.84 176 h1.6 V234.7 h-1.6 z M1842.73 177 h7.8 V217.1 h-7.8 z" fill="#ef5350"/>
<path d="M9.4 216.6 H1937" stroke="#ef5350" stroke-width="1.3" stroke-dasharray="1.3 3.25" fill="none"/>
</g>
<rect x="9.95" y="66.1" width="2028.35" height="1024.1" fill="none" stroke="#434652" stroke-width="1.45"/>
<path d="M1938 66.1 V1090.2 M9.95 1046.5 H2038.3" stroke="#434652" stroke-width="1.45" fill="none"/>
<path d="M1939 991.5 h6 M1939 934.83 h6 M1939 878.16 h6 M1939 821.49 h6 M1939 764.82 h6 M1939 708.15 h6 M1939 651.48 h6 M1939 594.81 h6 M1939 538.14 h6 M1939 481.47 h6 M1939 424.8 h6 M1939 368.13 h6 M1939 311.46 h6 M1939 254.79 h6 M1939 198.12 h6 M1939 141.45 h6 M1939 84.78 h6 M17.6 1047.5 v5 M142.74 1047.5 v5 M267.89 1047.5 v5 M393.03 1047.5 v5 M518.18 1047.5 v5 M643.32 1047.5 v5 M778.09 1047.5 v5 M941.74 1047.5 v5 M1066.89 1047.5 v5 M1278.67 1047.5 v5 M1403.82 1047.5 v5 M1528.96 1047.5 v5 M1654.11 1047.5 v5 M1779.25 1047.5 v5 M1904.39 1047.5 v5" stroke="#434652" stroke-width="1.4" fill="none"/>
<text x="1950.94" y="999.20" textLength="35.42" lengthAdjust="spacingAndGlyphs" font-family="&quot;Liberation Sans&quot;, sans-serif" font-size="18.50" font-weight="400" fill="#50535e" stroke="#50535e" stroke-width="0.35">0.00</text>
<text x="1950.98" y="942.53" textLength="64.08" lengthAdjust="spacingAndGlyphs" font-family="&quot;Liberation Sans&quot;, sans-serif" font-size="18.50" font-weight="400" fill="#50535e" stroke="#50535e" stroke-width="0.35">4000.00</text>
<text x="1950.98" y="885.86" textLength="64.08" lengthAdjust="spacingAndGlyphs" font-family="&quot;Liberation Sans&quot;, sans-serif" font-size="18.50" font-weight="400" fill="#50535e" stroke="#50535e" stroke-width="0.35">8000.00</text>
<text x="1950.65" y="829.19" textLength="74.04" lengthAdjust="spacingAndGlyphs" font-family="&quot;Liberation Sans&quot;, sans-serif" font-size="18.50" font-weight="400" fill="#50535e" stroke="#50535e" stroke-width="0.35">12000.00</text>
<text x="1950.65" y="772.52" textLength="74.04" lengthAdjust="spacingAndGlyphs" font-family="&quot;Liberation Sans&quot;, sans-serif" font-size="18.50" font-weight="400" fill="#50535e" stroke="#50535e" stroke-width="0.35">16000.00</text>
<text x="1950.65" y="715.85" textLength="74.04" lengthAdjust="spacingAndGlyphs" font-family="&quot;Liberation Sans&quot;, sans-serif" font-size="18.50" font-weight="400" fill="#50535e" stroke="#50535e" stroke-width="0.35">20000.00</text>
<text x="1950.65" y="659.18" textLength="74.04" lengthAdjust="spacingAndGlyphs" font-family="&quot;Liberation Sans&quot;, sans-serif" font-size="18.50" font-weight="400" fill="#50535e" stroke="#50535e" stroke-width="0.35">24000.00</text>
<text x="1950.65" y="602.51" textLength="74.04" lengthAdjust="spacingAndGlyphs" font-family="&quot;Liberation Sans&quot;, sans-serif" font-size="18.50" font-weight="400" fill="#50535e" stroke="#50535e" stroke-width="0.35">28000.00</text>
<text x="1950.65" y="545.84" textLength="74.04" lengthAdjust="spacingAndGlyphs" font-family="&quot;Liberation Sans&quot;, sans-serif" font-size="18.50" font-weight="400" fill="#50535e" stroke="#50535e" stroke-width="0.35">32000.00</text>
<text x="1950.65" y="489.17" textLength="74.04" lengthAdjust="spacingAndGlyphs" font-family="&quot;Liberation Sans&quot;, sans-serif" font-size="18.50" font-weight="400" fill="#50535e" stroke="#50535e" stroke-width="0.35">36000.00</text>
<text x="1950.65" y="432.50" textLength="74.04" lengthAdjust="spacingAndGlyphs" font-family="&quot;Liberation Sans&quot;, sans-serif" font-size="18.50" font-weight="400" fill="#50535e" stroke="#50535e" stroke-width="0.35">40000.00</text>
<text x="1950.65" y="375.83" textLength="74.04" lengthAdjust="spacingAndGlyphs" font-family="&quot;Liberation Sans&quot;, sans-serif" font-size="18.50" font-weight="400" fill="#50535e" stroke="#50535e" stroke-width="0.35">44000.00</text>
<text x="1950.65" y="319.16" textLength="74.04" lengthAdjust="spacingAndGlyphs" font-family="&quot;Liberation Sans&quot;, sans-serif" font-size="18.50" font-weight="400" fill="#50535e" stroke="#50535e" stroke-width="0.35">48000.00</text>
<text x="1950.65" y="262.49" textLength="74.04" lengthAdjust="spacingAndGlyphs" font-family="&quot;Liberation Sans&quot;, sans-serif" font-size="18.50" font-weight="400" fill="#50535e" stroke="#50535e" stroke-width="0.35">52000.00</text>
<text x="1950.65" y="205.82" textLength="74.04" lengthAdjust="spacingAndGlyphs" font-family="&quot;Liberation Sans&quot;, sans-serif" font-size="18.50" font-weight="400" fill="#50535e" stroke="#50535e" stroke-width="0.35">56000.00</text>
<text x="1950.65" y="149.15" textLength="74.04" lengthAdjust="spacingAndGlyphs" font-family="&quot;Liberation Sans&quot;, sans-serif" font-size="18.50" font-weight="400" fill="#50535e" stroke="#50535e" stroke-width="0.35">60000.00</text>
<text x="1950.65" y="92.48" textLength="74.04" lengthAdjust="spacingAndGlyphs" font-family="&quot;Liberation Sans&quot;, sans-serif" font-size="18.50" font-weight="400" fill="#50535e" stroke="#50535e" stroke-width="0.35">64000.00</text>
<g clip-path="url(#taxis)">
<text x="5.96" y="1076.00" textLength="24.15" lengthAdjust="spacingAndGlyphs" font-family="&quot;Liberation Sans&quot;, sans-serif" font-size="18.50" font-weight="400" fill="#50535e" stroke="#50535e" stroke-width="0.35">Jul</text>
<text x="128.10" y="1076.00" textLength="28.46" lengthAdjust="spacingAndGlyphs" font-family="&quot;Liberation Sans&quot;, sans-serif" font-size="18.50" font-weight="400" fill="#50535e" stroke="#50535e" stroke-width="0.35">Oct</text>
<text x="247.28" y="1076.00" textLength="41.26" lengthAdjust="spacingAndGlyphs" font-family="&quot;Liberation Sans&quot;, sans-serif" font-size="18.50" font-weight="400" fill="#50535e" stroke="#50535e" stroke-width="0.95">2018</text>
<text x="379.44" y="1076.00" textLength="27.41" lengthAdjust="spacingAndGlyphs" font-family="&quot;Liberation Sans&quot;, sans-serif" font-size="18.50" font-weight="400" fill="#50535e" stroke="#50535e" stroke-width="0.35">Apr</text>
<text x="506.41" y="1076.00" textLength="24.13" lengthAdjust="spacingAndGlyphs" font-family="&quot;Liberation Sans&quot;, sans-serif" font-size="18.50" font-weight="400" fill="#50535e" stroke="#50535e" stroke-width="0.35">Jul</text>
<text x="628.76" y="1076.00" textLength="28.53" lengthAdjust="spacingAndGlyphs" font-family="&quot;Liberation Sans&quot;, sans-serif" font-size="18.50" font-weight="400" fill="#50535e" stroke="#50535e" stroke-width="0.35">Oct</text>
<text x="757.24" y="1076.00" textLength="41.59" lengthAdjust="spacingAndGlyphs" font-family="&quot;Liberation Sans&quot;, sans-serif" font-size="18.50" font-weight="400" fill="#50535e" stroke="#50535e" stroke-width="0.95">2019</text>
<text x="924.56" y="1076.00" textLength="33.21" lengthAdjust="spacingAndGlyphs" font-family="&quot;Liberation Sans&quot;, sans-serif" font-size="18.50" font-weight="400" fill="#50535e" stroke="#50535e" stroke-width="0.35">May</text>
<text x="1052.12" y="1076.00" textLength="30.35" lengthAdjust="spacingAndGlyphs" font-family="&quot;Liberation Sans&quot;, sans-serif" font-size="18.50" font-weight="400" fill="#50535e" stroke="#50535e" stroke-width="0.35">Aug</text>
<text x="1257.88" y="1076.00" textLength="41.31" lengthAdjust="spacingAndGlyphs" font-family="&quot;Liberation Sans&quot;, sans-serif" font-size="18.50" font-weight="400" fill="#50535e" stroke="#50535e" stroke-width="0.95">2020</text>
<text x="1390.16" y="1076.00" textLength="27.35" lengthAdjust="spacingAndGlyphs" font-family="&quot;Liberation Sans&quot;, sans-serif" font-size="18.50" font-weight="400" fill="#50535e" stroke="#50535e" stroke-width="0.35">Apr</text>
<text x="1517.42" y="1076.00" textLength="23.94" lengthAdjust="spacingAndGlyphs" font-family="&quot;Liberation Sans&quot;, sans-serif" font-size="18.50" font-weight="400" fill="#50535e" stroke="#50535e" stroke-width="0.35">Jul</text>
<text x="1639.45" y="1076.00" textLength="28.62" lengthAdjust="spacingAndGlyphs" font-family="&quot;Liberation Sans&quot;, sans-serif" font-size="18.50" font-weight="400" fill="#50535e" stroke="#50535e" stroke-width="0.35">Oct</text>
<text x="1758.58" y="1076.00" textLength="41.20" lengthAdjust="spacingAndGlyphs" font-family="&quot;Liberation Sans&quot;, sans-serif" font-size="18.50" font-weight="400" fill="#50535e" stroke="#50535e" stroke-width="0.95">2021</text>
<text x="1890.71" y="1076.00" textLength="27.38" lengthAdjust="spacingAndGlyphs" font-family="&quot;Liberation Sans&quot;, sans-serif" font-size="18.50" font-weight="400" fill="#50535e" stroke="#50535e" stroke-width="0.35">Apr</text>
</g>
<rect x="1965.4" y="76.9" width="43.7" height="28.5" rx="4.5" fill="#fff" stroke="#d5d8de" stroke-width="1"/>
<text x="1971.05" y="96.40" textLength="32.71" lengthAdjust="spacingAndGlyphs" font-family="&quot;Liberation Sans&quot;, sans-serif" font-size="18.50" font-weight="400" fill="#50535e" stroke="#50535e" stroke-width="0.35">USD</text>
<rect x="1937" y="203" width="101.1" height="26.9" fill="#ef5350"/>
<rect x="1937" y="215.8" width="5.9" height="1.4" fill="#fff"/>
<rect x="1964.5" y="231.9" width="73.6" height="26.7" fill="#ef5350"/>
<text x="1950.65" y="223.00" textLength="74.04" lengthAdjust="spacingAndGlyphs" font-family="&quot;Liberation Sans&quot;, sans-serif" font-size="18.50" font-weight="400" fill="#ffffff" stroke="#ffffff" stroke-width="0.35">54694.26</text>
<text x="1970.31" y="251.50" textLength="54.44" lengthAdjust="spacingAndGlyphs" font-family="&quot;Liberation Sans&quot;, sans-serif" font-size="18.50" font-weight="400" fill="#ffffff" stroke="#ffffff" stroke-width="0.35">6d 13h</text>
<text x="8.94" y="25.10" textLength="91.52" lengthAdjust="spacingAndGlyphs" font-family="&quot;Liberation Sans&quot;, sans-serif" font-size="19.80" font-weight="700" fill="#363a45" stroke="#363a45" stroke-width="0.15">samslav84</text>
<text x="105.67" y="25.10" textLength="84.99" lengthAdjust="spacingAndGlyphs" font-family="&quot;Liberation Sans&quot;, sans-serif" font-size="19.80" font-weight="400" fill="#363a45" stroke="#363a45" stroke-width="0.35">published</text>
<text x="194.87" y="25.10" textLength="23.12" lengthAdjust="spacingAndGlyphs" font-family="&quot;Liberation Sans&quot;, sans-serif" font-size="19.80" font-weight="400" fill="#363a45" stroke="#363a45" stroke-width="0.35">on</text>
<text x="222.59" y="25.10" textLength="156.08" lengthAdjust="spacingAndGlyphs" font-family="&quot;Liberation Sans&quot;, sans-serif" font-size="19.80" font-weight="400" fill="#363a45" stroke="#363a45" stroke-width="0.35">TradingView.com,</text>
<text x="383.00" y="25.10" textLength="77.45" lengthAdjust="spacingAndGlyphs" font-family="&quot;Liberation Sans&quot;, sans-serif" font-size="19.80" font-weight="400" fill="#363a45" stroke="#363a45" stroke-width="0.35">February</text>
<text x="465.97" y="25.10" textLength="27.00" lengthAdjust="spacingAndGlyphs" font-family="&quot;Liberation Sans&quot;, sans-serif" font-size="19.80" font-weight="400" fill="#363a45" stroke="#363a45" stroke-width="0.35">22,</text>
<text x="496.90" y="25.10" textLength="41.57" lengthAdjust="spacingAndGlyphs" font-family="&quot;Liberation Sans&quot;, sans-serif" font-size="19.80" font-weight="400" fill="#363a45" stroke="#363a45" stroke-width="0.35">2021</text>
<text x="544.16" y="25.10" textLength="75.55" lengthAdjust="spacingAndGlyphs" font-family="&quot;Liberation Sans&quot;, sans-serif" font-size="19.80" font-weight="400" fill="#363a45" stroke="#363a45" stroke-width="0.35">11:28:13</text>
<text x="625.25" y="25.10" textLength="35.17" lengthAdjust="spacingAndGlyphs" font-family="&quot;Liberation Sans&quot;, sans-serif" font-size="19.80" font-weight="400" fill="#363a45" stroke="#363a45" stroke-width="0.35">UTC</text>
<text x="8.76" y="50.40" textLength="174.49" lengthAdjust="spacingAndGlyphs" font-family="&quot;Liberation Sans&quot;, sans-serif" font-size="19.80" font-weight="700" fill="#363a45" stroke="#363a45" stroke-width="0.15">BITSTAMP:BTCUSD,</text>
<text x="188.54" y="50.40" textLength="27.96" lengthAdjust="spacingAndGlyphs" font-family="&quot;Liberation Sans&quot;, sans-serif" font-size="19.80" font-weight="700" fill="#363a45" stroke="#363a45" stroke-width="0.15">1W</text>
<text x="224.61" y="50.40" textLength="80.34" lengthAdjust="spacingAndGlyphs" font-family="&quot;Liberation Sans&quot;, sans-serif" font-size="19.80" font-weight="400" fill="#363a45" stroke="#363a45" stroke-width="0.35">54694.26</text>
<text x="331.08" y="50.40" textLength="77.71" lengthAdjust="spacingAndGlyphs" font-family="&quot;Liberation Sans&quot;, sans-serif" font-size="19.80" font-weight="400" fill="#363a45" stroke="#363a45" stroke-width="0.35">−2798.65</text>
<text x="414.62" y="50.40" textLength="74.81" lengthAdjust="spacingAndGlyphs" font-family="&quot;Liberation Sans&quot;, sans-serif" font-size="19.80" font-weight="400" fill="#363a45" stroke="#363a45" stroke-width="0.35">(−4.87%)</text>
<text x="496.00" y="50.40" textLength="20.89" lengthAdjust="spacingAndGlyphs" font-family="&quot;Liberation Sans&quot;, sans-serif" font-size="19.80" font-weight="700" fill="#363a45" stroke="#363a45" stroke-width="0.15">O:</text>
<text x="517.86" y="50.40" textLength="79.73" lengthAdjust="spacingAndGlyphs" font-family="&quot;Liberation Sans&quot;, sans-serif" font-size="19.80" font-weight="400" fill="#ef5350" stroke="#ef5350" stroke-width="0.35">57485.74</text>
<text x="603.11" y="50.40" textLength="21.55" lengthAdjust="spacingAndGlyphs" font-family="&quot;Liberation Sans&quot;, sans-serif" font-size="19.80" font-weight="700" fill="#363a45" stroke="#363a45" stroke-width="0.15">H:</text>
<text x="625.49" y="50.40" textLength="79.82" lengthAdjust="spacingAndGlyphs" font-family="&quot;Liberation Sans&quot;, sans-serif" font-size="19.80" font-weight="400" fill="#ef5350" stroke="#ef5350" stroke-width="0.35">57564.19</text>
<text x="711.54" y="50.40" textLength="15.30" lengthAdjust="spacingAndGlyphs" font-family="&quot;Liberation Sans&quot;, sans-serif" font-size="19.80" font-weight="700" fill="#363a45" stroke="#363a45" stroke-width="0.15">L:</text>
<text x="727.93" y="50.40" textLength="79.45" lengthAdjust="spacingAndGlyphs" font-family="&quot;Liberation Sans&quot;, sans-serif" font-size="19.80" font-weight="400" fill="#ef5350" stroke="#ef5350" stroke-width="0.35">53461.77</text>
<text x="813.38" y="50.40" textLength="18.17" lengthAdjust="spacingAndGlyphs" font-family="&quot;Liberation Sans&quot;, sans-serif" font-size="19.80" font-weight="700" fill="#363a45" stroke="#363a45" stroke-width="0.15">C:</text>
<text x="832.48" y="50.40" textLength="80.08" lengthAdjust="spacingAndGlyphs" font-family="&quot;Liberation Sans&quot;, sans-serif" font-size="19.80" font-weight="400" fill="#ef5350" stroke="#ef5350" stroke-width="0.35">54694.26</text>
<text x="22.49" y="97.60" textLength="62.81" lengthAdjust="spacingAndGlyphs" font-family="&quot;Liberation Sans&quot;, sans-serif" font-size="18.40" font-weight="400" fill="#4c505c" stroke="#4c505c" stroke-width="0.85">Bitcoin</text>
<text x="90.68" y="97.60" textLength="7.13" lengthAdjust="spacingAndGlyphs" font-family="&quot;Liberation Sans&quot;, sans-serif" font-size="18.40" font-weight="400" fill="#4c505c" stroke="#4c505c" stroke-width="0.5">/</text>
<text x="103.22" y="97.60" textLength="34.97" lengthAdjust="spacingAndGlyphs" font-family="&quot;Liberation Sans&quot;, sans-serif" font-size="18.40" font-weight="400" fill="#4c505c" stroke="#4c505c" stroke-width="0.85">U.S.</text>
<text x="141.86" y="97.60" textLength="59.48" lengthAdjust="spacingAndGlyphs" font-family="&quot;Liberation Sans&quot;, sans-serif" font-size="18.40" font-weight="400" fill="#4c505c" stroke="#4c505c" stroke-width="0.85">Dollar,</text>
<text x="204.58" y="97.60" textLength="36.66" lengthAdjust="spacingAndGlyphs" font-family="&quot;Liberation Sans&quot;, sans-serif" font-size="18.40" font-weight="400" fill="#4c505c" stroke="#4c505c" stroke-width="0.85">1W,</text>
<text x="245.61" y="97.60" textLength="89.35" lengthAdjust="spacingAndGlyphs" font-family="&quot;Liberation Sans&quot;, sans-serif" font-size="18.40" font-weight="400" fill="#4c505c" stroke="#4c505c" stroke-width="0.85">BITSTAMP</text>
<text x="23.43" y="123.70" textLength="28.49" lengthAdjust="spacingAndGlyphs" font-family="&quot;Liberation Sans&quot;, sans-serif" font-size="19.00" font-weight="400" fill="#4c505c" stroke="#4c505c" stroke-width="0.2">Vol</text>
<text x="51.42" y="1124.30" textLength="107.14" lengthAdjust="spacingAndGlyphs" font-family="&quot;Liberation Sans&quot;, sans-serif" font-size="18.40" font-weight="400" fill="#363a45" stroke="#363a45" stroke-width="0.35">TradingView</text>
<text x="308.70" y="49.80" textLength="15.41" lengthAdjust="spacingAndGlyphs" font-family="&quot;DejaVu Sans&quot;, sans-serif" font-size="19.50" font-weight="400" fill="#ef5350" stroke="#ef5350" stroke-width="0.35">▼</text>
<g fill="#2ba59a"><circle cx="15.2" cy="1122.4" r="6.2"/><circle cx="25.9" cy="1114.0" r="7.1"/><circle cx="41.4" cy="1121.0" r="7.2"/><path d="M12 1129.7 L15.2 1122.4 L25.9 1114 L33 1114.6 L36 1116.3 L41.4 1121 L45.6 1129.7 z"/><rect x="9" y="1121.4" width="39.6" height="8.4" rx="5"/></g><path d="M9.3 1128.1 L23.9 1115.7 L33.4 1124.6 L45.3 1113.3" stroke="#fff" stroke-width="1.4" fill="none"/><circle cx="23.9" cy="1115.7" r="2.6" fill="#fff"/><circle cx="33.4" cy="1124.6" r="2.6" fill="#fff"/>
</svg>
</body></html>
